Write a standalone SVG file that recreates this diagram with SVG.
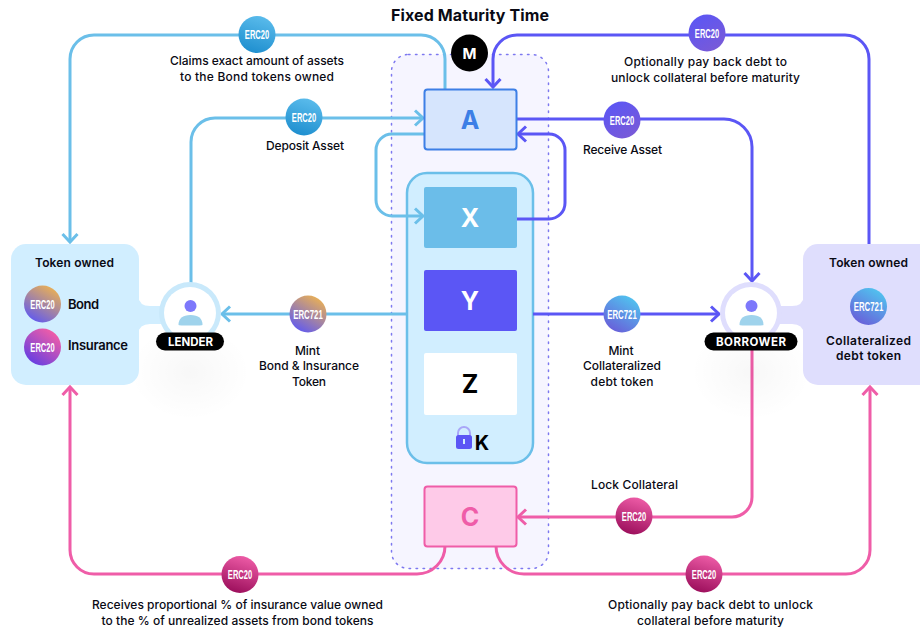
<svg xmlns="http://www.w3.org/2000/svg" width="920" height="630" viewBox="0 0 920 630">
<style>
text{font-family:Inter,"Noto Sans","Liberation Sans",sans-serif;fill:#0a0a14;text-anchor:middle}
.l{font-size:12px;font-weight:500}
.b{font-size:12px;font-weight:600}
.bl{font-size:13px;font-weight:600}
.big{font-size:25px;font-weight:700}
.e{font-family:"Liberation Sans",Arial,sans-serif;font-size:13px;font-weight:700;fill:#fff}
.c{fill:none;stroke-width:3;stroke-linejoin:round}
.lb{stroke:#6bbfe9}.pu{stroke:#5b56f5}.pk{stroke:#ef5da8}
.tag{fill:#fff;font-size:11.5px;font-weight:700}
</style>
<defs>
<marker id="al" markerUnits="userSpaceOnUse" markerWidth="18" markerHeight="20" refX="13" refY="10" orient="auto"><path d="M5 2.500L13 10L5 17.500" fill="none" stroke="#6bbfe9" stroke-width="3"/></marker>
<marker id="ap" markerUnits="userSpaceOnUse" markerWidth="18" markerHeight="20" refX="13" refY="10" orient="auto"><path d="M5 2.500L13 10L5 17.500" fill="none" stroke="#5b56f5" stroke-width="3"/></marker>
<marker id="ak" markerUnits="userSpaceOnUse" markerWidth="18" markerHeight="20" refX="13" refY="10" orient="auto"><path d="M5 2.500L13 10L5 17.500" fill="none" stroke="#ef5da8" stroke-width="3"/></marker>
<linearGradient id="g2" x1="0.7" y1="0" x2="0.4" y2="1"><stop offset="0" stop-color="#ef5da8"/><stop offset="1" stop-color="#9c0f5c"/></linearGradient>
<linearGradient id="g3" x1="0.8" y1="0" x2="0.2" y2="1"><stop offset="0" stop-color="#f0b44e"/><stop offset="1" stop-color="#5b56f5"/></linearGradient>
<linearGradient id="g4" x1="0.8" y1="0.1" x2="0.2" y2="0.9"><stop offset="0" stop-color="#ef5da8"/><stop offset="1" stop-color="#6a3fe0"/></linearGradient>
<linearGradient id="g5" x1="0.8" y1="0" x2="0.2" y2="1"><stop offset="0" stop-color="#4fc8f0"/><stop offset="1" stop-color="#6a5ad8"/></linearGradient>
<linearGradient id="g6" x1="0.2" y1="0" x2="0.8" y2="1"><stop offset="0" stop-color="#5b56f5"/><stop offset="1" stop-color="#7a5ad6"/></linearGradient>
<linearGradient id="g7" x1="0.7" y1="0" x2="0.4" y2="1"><stop offset="0" stop-color="#5bbcec"/><stop offset="1" stop-color="#1f8fcf"/></linearGradient>
<radialGradient id="sh"><stop offset="0" stop-color="#000" stop-opacity=".03"/><stop offset="1" stop-color="#000" stop-opacity="0"/></radialGradient>
</defs>
<rect width="920" height="630" fill="#fff"/>
<g id="title"><text x="470" y="20.500" textLength="158" style="font-size:16px;font-weight:700">Fixed Maturity Time</text></g>
<g id="maturity-panel"><rect x="391.500" y="54.500" width="157" height="514" rx="17" fill="#f6f5ff" stroke="#7d78f0" stroke-width="1.500" stroke-dasharray="1.500 5.500" stroke-linecap="round"/></g>
<g id="node-k"><rect x="407" y="173" width="126" height="290" rx="20" fill="#d1eeff" stroke="#6bbfe9" stroke-width="2.500"/>
<path d="M458 436v-3a6 6 0 0 1 12 0v3" fill="none" stroke="#a9a6f8" stroke-width="2"/><rect x="456" y="435" width="16" height="14" rx="2.500" fill="#5b56f5"/><rect x="463" y="439" width="2" height="5" fill="#d1eeff"/>
<text x="482" y="450" style="font-size:20px;font-weight:700;fill:#000">K</text></g>
<g id="connectors">
<path class="c lb" marker-end="url(#al)" d="M445 89V59A24 24 0 0 0 421 35H94A24 24 0 0 0 70 59V242"/>
<path class="c pu" marker-end="url(#ap)" d="M869 244V59A24 24 0 0 0 845 35H517A24 24 0 0 0 493 59V87"/>
<path class="c lb" marker-end="url(#al)" d="M191 285V142A24 24 0 0 1 215 118H423"/>
<path class="c pu" marker-end="url(#ap)" d="M516 119H724A28 28 0 0 1 752 147V281"/>
<path class="c lb" marker-end="url(#al)" d="M424 134H392A16 16 0 0 0 376 150V200A16 16 0 0 0 392 216H423"/>
<path class="c pu" marker-end="url(#ap)" d="M517 219H549A16 16 0 0 0 565 203V150A16 16 0 0 0 549 134H518"/>
<path class="c lb" marker-end="url(#al)" d="M407 314H222"/>
<path class="c pu" marker-end="url(#ap)" d="M533 314H719"/>
<path class="c pk" marker-end="url(#ak)" d="M752 350V497A20 20 0 0 1 732 517H518"/>
<path class="c pk" marker-end="url(#ak)" d="M445 546A28 28 0 0 1 417 574H94A24 24 0 0 1 70 550V387"/>
<path class="c pk" marker-end="url(#ak)" d="M496 546A28 28 0 0 0 524 574H846A24 24 0 0 0 870 550V387"/>
</g>
<g id="node-a"><rect x="424.500" y="89.500" width="92" height="60" rx="3" fill="#d6e5fd" stroke="#3d7fe6" stroke-width="2"/><text class="big" x="470" y="129" style="fill:#3d7fe6">A</text></g>
<g id="node-m"><circle cx="469.500" cy="53" r="18.500" fill="#000"/><text x="469.500" y="58.500" style="fill:#fff;font-size:15px;font-weight:700">M</text></g>
<g id="node-x"><rect x="424" y="187" width="93" height="61" rx="2" fill="#6bbde9"/><text class="big" x="470" y="227" style="fill:#fff">X</text></g>
<g id="node-y"><rect x="424" y="270" width="93" height="61" rx="2" fill="#5b56f5"/><text class="big" x="470" y="310" style="fill:#fff">Y</text></g>
<g id="node-z"><rect x="424" y="353" width="93" height="62" rx="2" fill="#fff"/><text class="big" x="470" y="393" style="fill:#000">Z</text></g>
<g id="node-c"><rect x="424.500" y="486.500" width="92" height="60" rx="3" fill="#fecae8" stroke="#ef5da8" stroke-width="2"/><text class="big" x="470" y="526" style="fill:#ef5da8">C</text></g>
<g id="lender-owned">
<ellipse cx="190" cy="372" rx="60" ry="48" fill="url(#sh)"/>
<rect x="11" y="244" width="128" height="141" rx="15" fill="#d1eeff"/>
<path d="M138 296Q139 306 150 306H166V324H150Q139 324 138 334Z" fill="#d1eeff"/>
<text class="b" x="74.500" y="267" textLength="79">Token owned</text>
<circle cx="42.500" cy="304" r="18.500" fill="url(#g3)"/><text class="e" transform="translate(42.500 308.500) scale(.58 1)">ERC20</text>
<text class="bl" x="83.500" y="309" textLength="31">Bond</text>
<circle cx="42.500" cy="347" r="18.500" fill="url(#g4)"/><text class="e" transform="translate(42.500 351.500) scale(.58 1)">ERC20</text>
<text class="bl" x="98" y="350" textLength="60">Insurance</text>
</g>
<g id="lender"><circle cx="190" cy="313" r="31" fill="#c9e9fb"/><circle cx="190" cy="313" r="26" fill="#fff"/>
<circle cx="190.500" cy="306" r="6" fill="#7d78fb"/><path d="M178.500 325Q178.500 315 190.500 315Q202.500 315 202.500 325Q202.500 325.500 190.500 325.500Q178.500 325.500 178.500 325Z" fill="#9fd3ec"/>
<rect x="156" y="332.500" width="68" height="18" rx="9" fill="#000"/><text class="tag" x="190.500" y="345.500" textLength="45">LENDER</text></g>
<g id="borrower-owned">
<ellipse cx="751" cy="372" rx="60" ry="48" fill="url(#sh)"/>
<rect x="803" y="244" width="130" height="141" rx="15" fill="#dfdefd"/>
<path d="M804 296Q803 306 792 306H776V324H792Q803 324 804 334Z" fill="#dfdefd"/>
<text class="b" x="868.500" y="267" textLength="79">Token owned</text>
<circle cx="868.500" cy="306.500" r="18.500" fill="url(#g5)"/><text class="e" transform="translate(868.500 311) scale(.6 1)">ERC721</text>
<text class="b" x="868.500" y="344.500" textLength="85">Collateralized</text><text class="b" x="868.500" y="360" textLength="65">debt token</text>
</g>
<g id="borrower"><circle cx="751" cy="313" r="31" fill="#dfdefd"/><circle cx="751" cy="313" r="26" fill="#fff"/>
<circle cx="751.500" cy="306" r="6" fill="#7d78fb"/><path d="M739.500 325Q739.500 315 751.500 315Q763.500 315 763.500 325Q763.500 325.500 751.500 325.500Q739.500 325.500 739.500 325Z" fill="#9fd3ec"/>
<rect x="704.500" y="332.500" width="93" height="18" rx="9" fill="#000"/><text class="tag" x="751" y="345.500" textLength="70">BORROWER</text></g>
<g id="badges">
<circle cx="257" cy="34.500" r="18.500" fill="url(#g7)"/><text class="e" transform="translate(257 39) scale(.58 1)">ERC20</text>
<circle cx="707" cy="33" r="18.500" fill="url(#g6)"/><text class="e" transform="translate(707 37.500) scale(.58 1)">ERC20</text>
<circle cx="304" cy="117" r="18.500" fill="url(#g7)"/><text class="e" transform="translate(304 121.500) scale(.58 1)">ERC20</text>
<circle cx="622" cy="120" r="18.500" fill="url(#g6)"/><text class="e" transform="translate(622 124.500) scale(.58 1)">ERC20</text>
<circle cx="308" cy="314" r="18.500" fill="url(#g3)"/><text class="e" transform="translate(308 318.500) scale(.6 1)">ERC721</text>
<circle cx="622" cy="314" r="18.500" fill="url(#g5)"/><text class="e" transform="translate(622 318.500) scale(.6 1)">ERC721</text>
<circle cx="634" cy="516" r="18.500" fill="url(#g2)"/><text class="e" transform="translate(634 520.500) scale(.58 1)">ERC20</text>
<circle cx="240" cy="574.500" r="18.500" fill="url(#g2)"/><text class="e" transform="translate(240 579) scale(.58 1)">ERC20</text>
<circle cx="704" cy="574" r="18.500" fill="url(#g2)"/><text class="e" transform="translate(704 578.500) scale(.58 1)">ERC20</text>
</g>
<g id="labels">
<text class="l" x="257" y="65" textLength="174">Claims exact amount of assets</text><text class="l" x="257" y="81" textLength="154">to the Bond tokens owned</text>
<text class="l" x="705.500" y="66" textLength="163">Optionally pay back debt to</text><text class="l" x="705.500" y="81.500" textLength="189">unlock collateral before maturity</text>
<text class="l" x="305" y="150" textLength="78">Deposit Asset</text>
<text class="l" x="622.500" y="153.500" textLength="79">Receive Asset</text>
<text class="l" x="307.500" y="354.500" textLength="25">Mint</text><text class="l" x="309" y="370" textLength="100">Bond &amp; Insurance</text><text class="l" x="309" y="386" textLength="34">Token</text>
<text class="l" x="621" y="354.500" textLength="25">Mint</text><text class="l" x="622" y="370" textLength="78">Collateralized</text><text class="l" x="622" y="386" textLength="63">debt token</text>
<text class="l" x="634.500" y="489" textLength="87">Lock Collateral</text>
<text class="l" x="237.500" y="609" textLength="291">Receives proportional % of insurance value owned</text><text class="l" x="237.500" y="625" textLength="272">to the % of unrealized assets from bond tokens</text>
<text class="l" x="710.500" y="609" textLength="205">Optionally pay back debt to unlock</text><text class="l" x="710.500" y="625" textLength="147">collateral before maturity</text>
</g>
</svg>
